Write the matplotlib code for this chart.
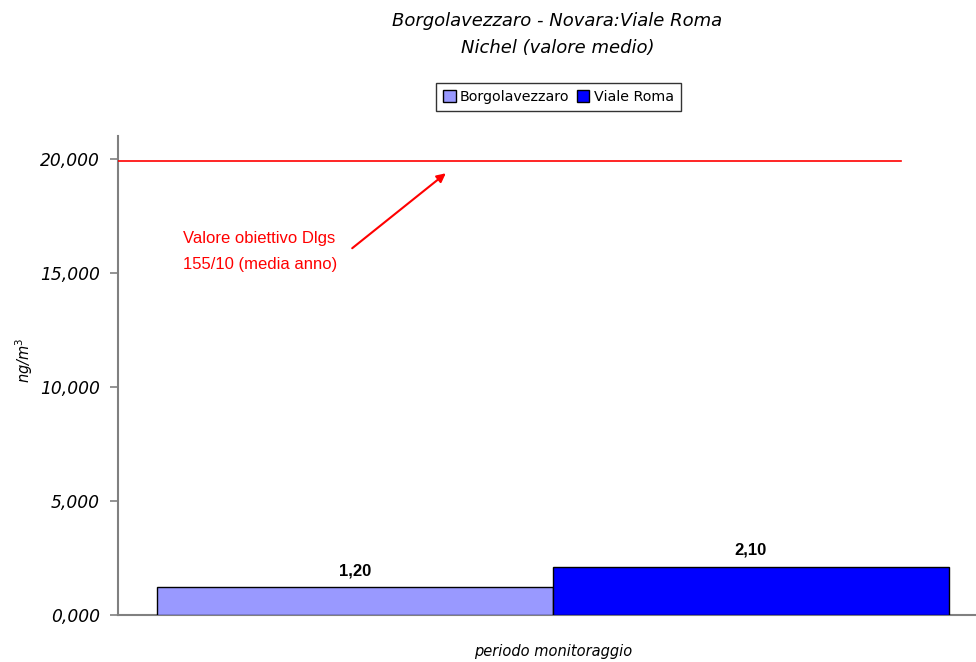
import matplotlib.pyplot as plt

# Nichel, valore medio (ng/m3)
stations = ["Borgolavezzaro", "Viale Roma"]
values = [1.20, 2.10]
colors = ["#9999FF", "#0000FF"]
target = 20  # valore obiettivo Dlgs 155/10

plt.rcParams['font.family'] = ['DejaVu Sans']

fig = plt.figure(figsize=(9.76, 6.62), dpi=100)
ax = fig.add_axes([0.1209, 0.0714, 0.8914, 0.7232])

width = 0.455
offsets = [-width / 2, width / 2]
for name, val, col, off in zip(stations, values, colors, offsets):
    ax.bar(off, val, width=width, color=col, edgecolor="black", linewidth=1, label=name, zorder=3)
    ax.text(off, val + 0.4, f"{val:.2f}".replace(".", ","), ha="center", va="bottom",
            fontsize=12, fontweight="bold", family="Liberation Sans")

ax.set_xlim(-0.5, 0.5)
ax.set_ylim(0, 21)
ax.set_yticks([0, 5, 10, 15, 20])
ax.set_yticklabels([f"{v:,.3f}".replace(".", ",") for v in [0, 5, 10, 15, 20]],
                   fontstyle="italic", fontsize=12.3)
ax.set_xticks([])

for side in ["top", "right"]:
    ax.spines[side].set_visible(False)
for side in ["left", "bottom"]:
    ax.spines[side].set_color("#808080")
    ax.spines[side].set_linewidth(1.5)
ax.tick_params(axis="y", length=6, width=1.2, color="#808080", pad=7)

# linea del valore obiettivo
ax.plot([-0.5, 0.4], [target - 0.1, target - 0.1], color="red", linewidth=1.2, zorder=4)
ax.annotate("", xy=(-0.1207, 19.44), xytext=(-0.2333, 16.0),
            arrowprops=dict(arrowstyle="-|>", color="red", lw=1.5, mutation_scale=13))
ax.text(-0.425, 15.93, "Valore obiettivo Dlgs\n155/10 (media anno)", color="red",
        fontsize=12, va="center", ha="left", linespacing=1.85, family="Liberation Sans")

ax.set_ylabel("ng/m$^3$", fontstyle="italic", fontsize=10.5)
ax.yaxis.set_label_coords(-0.0955, 0.532)
ax.set_xlabel("periodo monitoraggio", fontstyle="italic", fontsize=10.5, labelpad=21)

fig.text(0.571, 0.969, "Borgolavezzaro - Novara:Viale Roma", ha="center", va="center",
         fontstyle="italic", fontsize=13)
fig.text(0.571, 0.928, "Nichel (valore medio)", ha="center", va="center",
         fontstyle="italic", fontsize=13)

leg = fig.legend(loc="center", bbox_to_anchor=(0.572, 0.853), ncol=2,
                 frameon=True, fancybox=False, edgecolor="black", handlelength=0.9,
                 handleheight=0.9, handletextpad=0.3, columnspacing=0.5,
                 borderpad=0.5, borderaxespad=0, prop={"family": "DejaVu Sans", "size": 10.3})
leg.get_frame().set_linewidth(1)

fig.savefig("out.png", dpi=100)
